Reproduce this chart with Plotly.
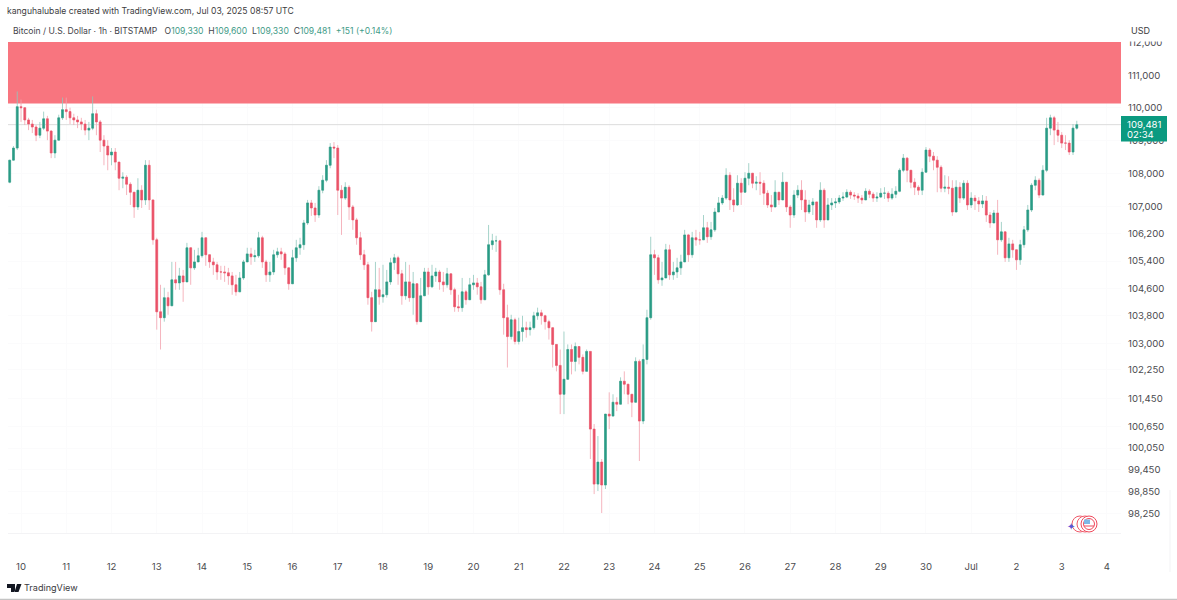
import pandas as pd
import plotly.graph_objects as go

# 2h candles, one row per day
first_open = 107740

closes = [
    108405, 108770, 110030,
    110000, 109625, 109500, 109410, 109160, 109375, 109660, 109285, 108620, 109010, 109690, 109940,
    109880, 109690, 109625, 109565, 109500, 109315, 109375, 109815, 109565, 109010, 108830, 108560,
    108650, 108345, 107860, 107890, 107680, 107440, 107000, 107500, 107210, 108250, 107210, 106025,
    103920, 103750, 104330, 104095, 104850, 104760, 104965, 104790, 105790, 105200, 105375, 105555,
    106085, 105585, 105375, 105290, 105080, 105080, 105055, 104965, 104705, 104500, 104905, 105375,
    105610, 105525, 105555, 106085, 105375, 104995, 105080, 105585, 105670, 105610, 105200, 104735,
    105495, 105790, 105880, 106525, 107120, 106970, 106760, 107500, 107800, 108250, 108800, 108770,
    107500, 107265, 107590, 107000, 106615, 106085, 105585, 105290, 104330, 103635, 104560, 104355,
    104415, 104790, 105350, 105495, 105025, 104385, 104790, 104330, 104735, 103635, 104385, 105080,
    104645, 104965, 105080, 104790, 104705, 105025, 104560, 104065, 104040, 104500, 104270, 104705,
    104760, 104645, 104270, 104995, 105880, 105995, 105995, 104560, 103750, 103205, 103690, 103065,
    103350, 103460, 103405, 103460, 103805, 103890, 103805, 103635, 103460, 102980, 102380, 101560,
    101985, 102835, 102495, 102920, 102610, 102210, 102780, 100580, 99050, 99660, 99025, 101000,
    100945, 101335, 101280, 101930, 101845, 101560, 101335, 102495, 100805, 102550, 103750, 105585,
    105495, 104850, 104905, 105730, 104995, 105080, 105200, 105375, 106170, 105585, 106085, 106025,
    106025, 106380, 106115, 106320, 106850, 107120, 107265, 107950, 107210, 107060, 107710, 107440,
    107860, 108010, 107710, 107740, 107710, 107410, 107060, 107000, 107440, 107210, 107740, 107000,
    106760, 107355, 107500, 107210, 106850, 107060, 107150, 106615, 107500, 106615, 107060, 107120,
    107150, 107265, 107295, 107440, 107355, 107325, 107265, 107210, 107470, 107380, 107265, 107295,
    107410, 107410, 107265, 107380, 107470, 108100, 108465, 108100, 107740, 107590, 107500, 108040,
    108710, 108525, 108405, 108190, 107560, 107590, 107560, 106850, 107590, 107265, 107710, 107060,
    107265, 107180, 107090, 107180, 106760, 106525, 106820, 106025, 106260, 105495, 105905, 105730,
    105435, 105880, 106320, 106910, 107650, 107800, 107355, 108100, 109375, 109690, 109315, 109160,
    108920, 108920, 108650, 109375, 109481,
]

highs = [
    108405, 108830, 110500,
    110250, 109880, 109690, 109625, 109470, 109565, 109880, 109750, 109315, 109160, 109785, 110310,
    110310, 110000, 109815, 109750, 109690, 109625, 109565, 110345, 109940, 109625, 109160, 109010,
    108770, 108770, 108100, 108040, 107950, 107740, 107440, 107860, 107650, 108405, 108405, 107210,
    106085, 104705, 104620, 104500, 105375, 105375, 105200, 105140, 105935, 105730, 105730, 105790,
    106260, 106085, 105555, 105495, 105375, 105260, 105260, 105200, 105080, 104995, 105080, 105435,
    105790, 105790, 105730, 106260, 106145, 105435, 105375, 105730, 105790, 105790, 105670, 105200,
    105730, 106025, 106085, 106615, 107210, 107210, 107120, 107620, 107950, 108405, 108920, 108950,
    108860, 107650, 107740, 107650, 107060, 106675, 106260, 105730, 105375, 104500, 105375, 105200,
    105290, 105140, 105495, 105610, 105555, 105140, 105375, 105290, 105080, 104705, 104905, 105200,
    105200, 105290, 105200, 105140, 105080, 105200, 104995, 104620, 104415, 104905, 104560, 104905,
    104995, 104905, 104790, 105140, 106465, 106200, 106145, 106025, 104735, 104125, 103835, 103750,
    103750, 103805, 103635, 103635, 103920, 104040, 103980, 103835, 103690, 103405, 102890, 102835,
    103350, 102980, 102980, 103035, 102835, 102695, 102835, 102780, 100720, 100385, 99745, 99605,
    101615, 101560, 101475, 102040, 102210, 101845, 101560, 102610, 102550, 102980, 103980, 106115,
    105730, 105585, 105375, 105905, 105880, 105375, 105495, 105585, 106320, 106200, 106260, 106320,
    106260, 106760, 106555, 106555, 106970, 107295, 107355, 108160, 108040, 107560, 107950, 107860,
    108040, 108315, 107950, 107920, 108040, 107800, 107500, 107355, 107800, 107440, 108040, 107740,
    107060, 107500, 107650, 107800, 107500, 107210, 107265, 107060, 107740, 107560, 107265, 107265,
    107265, 107355, 107440, 107530, 107500, 107440, 107410, 107355, 107560, 107530, 107440, 107440,
    107560, 107590, 107470, 107560, 107620, 108160, 108590, 108495, 108100, 107860, 107650, 108160,
    108800, 108770, 108650, 108525, 108250, 107950, 107920, 107800, 107800, 107740, 107800, 107800,
    107440, 107355, 107295, 107355, 107325, 106850, 106910, 107210, 106555, 106260, 106085, 106025,
    105730, 106025, 106435, 107060, 107710, 107920, 107860, 108250, 109690, 109785, 109750, 109565,
    109255, 109160, 109010, 109500, 109600,
]

lows = [
    107710, 108405, 108710,
    109565, 109470, 109315, 109225, 108980, 109070, 109315, 109010, 108465, 108465, 109010, 109625,
    109625, 109500, 109470, 109375, 109315, 109160, 109010, 109315, 109160, 108650, 108250, 108100,
    108250, 108100, 107500, 107560, 107355, 107060, 106675, 106910, 106970, 107060, 106910, 105880,
    103405, 102835, 103635, 103835, 104270, 104560, 104560, 104210, 104995, 104705, 105140, 105375,
    105495, 105260, 105200, 104995, 104850, 104850, 104790, 104705, 104415, 104385, 104500, 104850,
    105375, 105290, 105375, 105495, 105200, 104790, 104790, 104995, 105495, 105435, 104995, 104560,
    105140, 105375, 105585, 105730, 106465, 106735, 106555, 106675, 107410, 107740, 108160, 108465,
    106760, 106170, 107210, 106615, 106320, 105880, 105435, 105140, 104125, 103350, 103750, 104125,
    104185, 104330, 104705, 105140, 104705, 104125, 104270, 104210, 103835, 103550, 103635, 104385,
    104415, 104620, 104790, 104560, 104500, 104620, 104415, 103920, 103920, 103920, 104125, 104385,
    104560, 104415, 104155, 104270, 104965, 105730, 105670, 104415, 103260, 102320, 103120, 102980,
    102980, 103065, 103175, 103235, 103405, 103690, 103550, 103405, 103120, 102320, 102210, 101000,
    101000, 102040, 102125, 102210, 102410, 102125, 102210, 99745, 98775, 98860, 98255, 98915,
    100580, 101000, 101085, 101280, 101560, 101280, 100915, 101475, 99690, 100720, 102410, 103690,
    104995, 104735, 104675, 104995, 104850, 104850, 104905, 104995, 105375, 105375, 105495, 105850,
    105880, 106025, 105935, 106025, 106260, 106850, 107060, 107210, 106910, 106850, 107030, 107060,
    107500, 107650, 107560, 107500, 107355, 107060, 106970, 106850, 107060, 107060, 107210, 106850,
    106380, 106675, 107265, 106910, 106555, 106790, 106760, 106380, 106555, 106380, 106675, 106910,
    106970, 107090, 107180, 107265, 107240, 107210, 107120, 107090, 107210, 107265, 107150, 107150,
    107265, 107240, 107150, 107210, 107265, 107440, 108040, 107740, 107560, 107355, 107355, 107355,
    108040, 108345, 108100, 107440, 107440, 107440, 107380, 106735, 107265, 107120, 107210, 106910,
    106970, 106910, 106850, 106970, 106555, 106380, 106555, 105585, 105965, 105375, 105375, 105495,
    105140, 105290, 105790, 106260, 106850, 107500, 107265, 107355, 108040, 109160, 108860, 108950,
    108770, 108710, 108560, 108560, 109330,
]

price_ticks = [112000, 111000, 110000, 109000, 108000, 107000, 106200, 105400, 104600,
               103800, 103000, 102250, 101450, 100650, 100050, 99450, 98850, 98250]
day_ticks = ["2025-06-10", "2025-06-11", "2025-06-12", "2025-06-13", "2025-06-14", "2025-06-15",
             "2025-06-16", "2025-06-17", "2025-06-18", "2025-06-19", "2025-06-20", "2025-06-21",
             "2025-06-22", "2025-06-23", "2025-06-24", "2025-06-25", "2025-06-26", "2025-06-27",
             "2025-06-28", "2025-06-29", "2025-06-30", "2025-07-01", "2025-07-02", "2025-07-03",
             "2025-07-04"]
day_labels = ["10", "11", "12", "13", "14", "15", "16", "17", "18", "19", "20", "21", "22", "23",
              "24", "25", "26", "27", "28", "29", "30", "Jul", "2", "3", "4"]
zone_low = 110125
zone_high = 112031
last_price = 109481
x_start = "2025-06-09 17:06"
x_end = "2025-07-04 07:27"

times = pd.date_range("2025-06-09 18:00", periods=len(closes), freq="2h")
opens = [first_open] + closes[:-1]
body_tops = [max(o, c) for o, c in zip(opens, closes)]
body_bots = [min(o, c) for o, c in zip(opens, closes)]

W, H = 1177, 600
L, R, T, B = 8, 1121, 42, 533
FONT = "Inter, Roboto, sans-serif"
TXT = "#4c4c50"
GREEN = "#2a9c86"
RED = "#ea5268"
GREEN_WICK = "#8fc8bc"
RED_WICK = "#f2a2ad"


def px(x):
    return (x - L) / (R - L)


def py(y):
    return (B - y) / (B - T)


def label(x, y, text, size=10, color=TXT, anchor="left"):
    return dict(xref="paper", yref="paper", x=px(x), y=py(y), text=text, showarrow=False,
                xanchor=anchor, yanchor="middle", align="left", borderpad=0, borderwidth=0,
                font=dict(family=FONT, size=size, color=color))


def rect(x0, y0, x1, y1, fill, layer="above"):
    return dict(type="rect", xref="paper", yref="paper", x0=px(x0), x1=px(x1), y0=py(y0), y1=py(y1),
                fillcolor=fill, line_width=0, layer=layer)


def circle(x0, y0, x1, y1, edge, fill="rgba(0,0,0,0)"):
    return dict(type="circle", xref="paper", yref="paper", x0=px(x0), x1=px(x1), y0=py(y0), y1=py(y1),
                line=dict(color=edge, width=1), fillcolor=fill, layer="above")


def val(text):
    return f'<span style="color:#3f9c88">{text}</span>'


fig = go.Figure()
# pale wicks first, bodies on top of them
fig.add_trace(go.Candlestick(
    x=times, open=opens, high=highs, low=lows, close=closes,
    increasing=dict(line=dict(color=GREEN_WICK, width=0.8), fillcolor=GREEN_WICK),
    decreasing=dict(line=dict(color=RED_WICK, width=0.8), fillcolor=RED_WICK),
    whiskerwidth=0, showlegend=False, hoverinfo="skip",
))
fig.add_trace(go.Candlestick(
    x=times, open=opens, high=body_tops, low=body_bots, close=closes,
    increasing=dict(line=dict(color=GREEN, width=0.4), fillcolor=GREEN),
    decreasing=dict(line=dict(color=RED, width=0.4), fillcolor=RED),
    whiskerwidth=0, showlegend=False, hoverinfo="skip",
))

logo = (f"M {px(7)} {py(584)} L {px(15)} {py(584)} L {px(15)} {py(592)} L {px(11)} {py(592)} "
        f"L {px(11)} {py(588)} L {px(7)} {py(588)} Z "
        f"M {px(17)} {py(584)} L {px(21.5)} {py(584)} L {px(18.5)} {py(592)} L {px(14.5)} {py(592)} Z")

shapes = [
    # data refs on both axes, paper refs would put these under the grid
    dict(type="rect", xref="x", yref="y", x0=x_start, x1=x_end, y0=zone_low, y1=zone_high,
         fillcolor="#f8757f", line_width=0, layer="between"),
    dict(type="line", xref="x", yref="y", x0=x_start, x1=x_end, y0=last_price, y1=last_price,
         line=dict(color="#dcdcdc", width=1), layer="between"),
    rect(R, 28, 1177, 41.5, "white"),
    rect(R, 116, 1167, 141.5, "#0b9a80"),
    dict(type="line", xref="paper", yref="paper", x0=px(1170), x1=px(1170), y0=py(490), y1=py(572),
         line=dict(color="#f3f3f5", width=1), layer="below"),
    dict(type="line", xref="paper", yref="paper", x0=px(0), x1=px(W), y0=py(599.5), y1=py(599.5),
         line=dict(color="#c4c4c4", width=1.5), layer="above"),
    circle(1072, 516, 1088, 532, "#ef5a6a", "white"),
    circle(1077, 516, 1093, 532, "#ef5a6a", "white"),
    circle(1081, 516, 1097, 532, "#ef4a5c", "white"),
    circle(1083.5, 518.5, 1094.5, 529.5, "#ef4a5c", "white"),
    rect(1084, 519.5, 1090, 524, "#7db8e6"),
    dict(type="line", xref="paper", yref="paper", x0=px(1084), x1=px(1094), y0=py(526), y1=py(526),
         line=dict(color="#ef4a5c", width=1), layer="above"),
    dict(type="path", xref="paper", yref="paper", path=logo, fillcolor="#131722", line_width=0, layer="above"),
]

annotations = [
    label(7, 11, "kanguhalubale created with TradingView.com, Jul 03, 2025 08:57 UTC", 8.6, "#3c3c40"),
    label(13, 30.5,
          "Bitcoin / U.S. Dollar · 1h · BITSTAMP  &nbsp;O" + val("109,330") + " &nbsp;H" + val("109,600")
          + " &nbsp;L" + val("109,330") + " &nbsp;C" + val("109,481") + " &nbsp;" + val("+151 (+0.14%)"),
          8.6, "#44444a"),
    label(1131, 31, "USD", 9, "#3c3c40"),
    label(1127, 124, "109,481", 9.6, "white"),
    label(1127, 134.5, "02:34", 9.6, "white"),
    label(1071, 525.5, "✦", 10, "#5b55d8", "center"),
    label(24, 587.5, "TradingView", 9.1, "#3a3a40"),
]

fig.update_layout(
    width=W, height=H,
    margin=dict(l=L, r=W - R, t=T, b=H - B),
    paper_bgcolor="white", plot_bgcolor="white",
    shapes=shapes, annotations=annotations,
    font=dict(family=FONT, size=9.6, color=TXT),
    xaxis=dict(
        type="date", range=[x_start, x_end],
        rangeslider=dict(visible=False),
        tickmode="array", tickvals=day_ticks, ticktext=day_labels,
        ticks="", ticklabelstandoff=24, tickangle=0,
        showgrid=True, gridcolor="#fbfbfc", gridwidth=1,
        showline=True, linecolor="#f3f3f5", zeroline=False,
    ),
    yaxis=dict(
        type="log", side="right", range=[4.98994, 5.04934],
        tickmode="array", tickvals=price_ticks, ticktext=[f"{p:,}" for p in price_ticks],
        ticks="", ticklabelstandoff=6,
        showgrid=True, gridcolor="#fbfbfc", gridwidth=1, zeroline=False,
    ),
)

fig.write_html("out.html", config={"displayModeBar": False},
               post_script="document.body.style.margin='0';")
